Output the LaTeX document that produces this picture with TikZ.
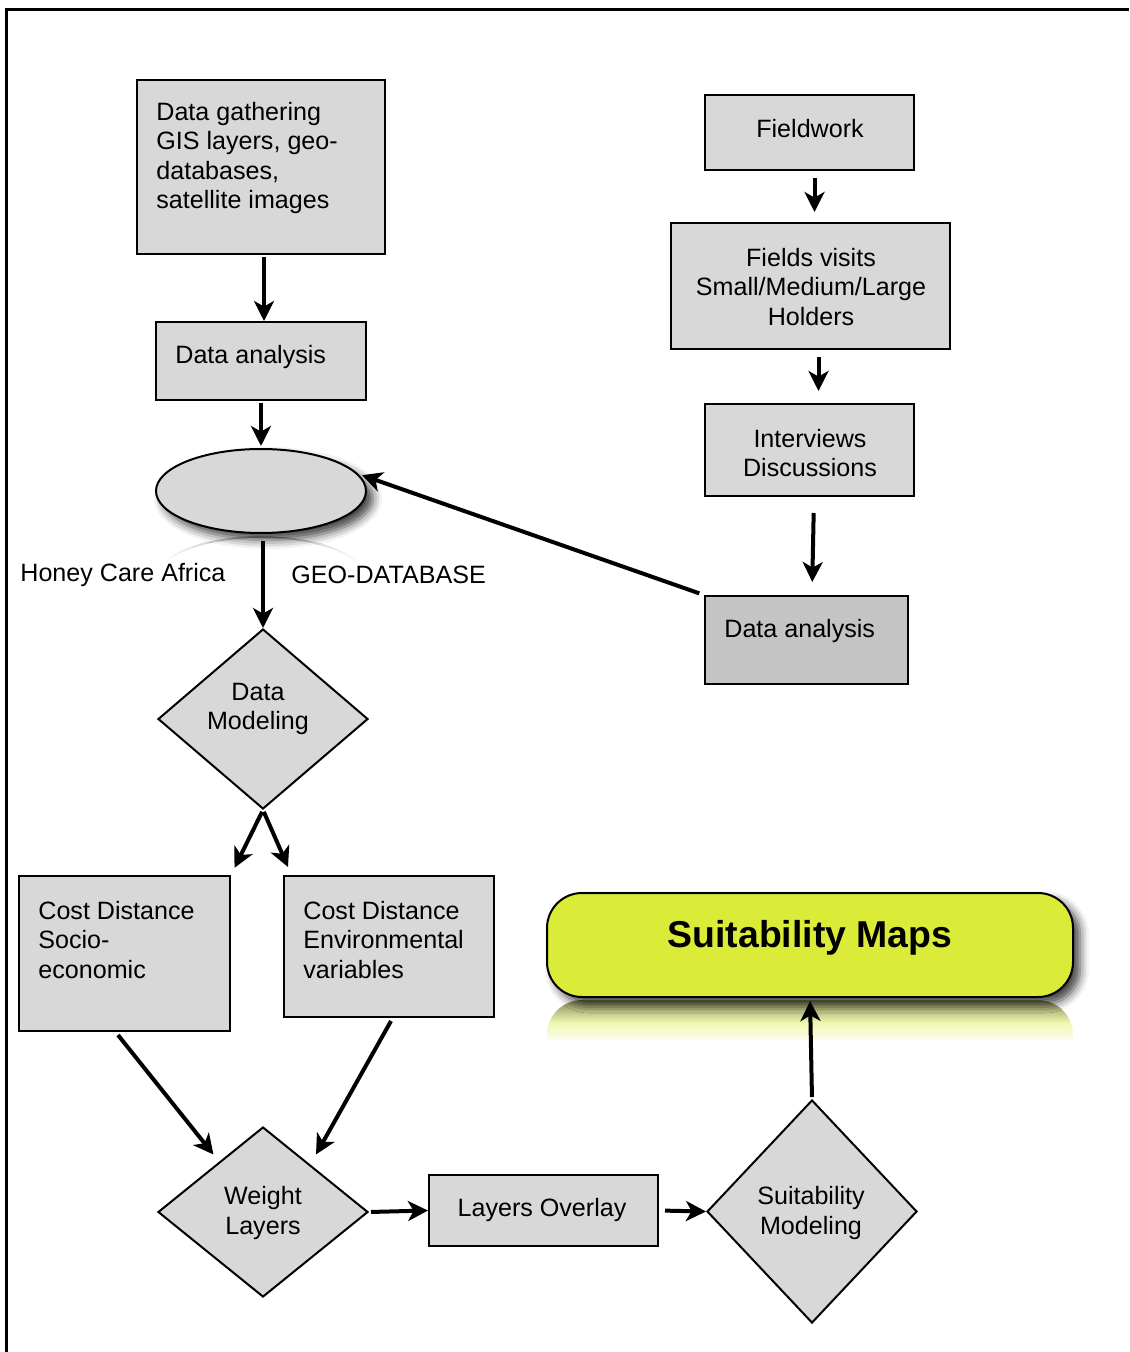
\documentclass[tikz,border=0pt]{standalone}
\usepackage{fontspec}
\setmainfont{Liberation Sans}
\usetikzlibrary{arrows.meta,shapes.geometric,shadows.blur,fadings,calc}
\definecolor{boxgray}{RGB}{216,216,216}
\definecolor{darkgray2}{RGB}{196,196,196}
\definecolor{mapyellow}{RGB}{218,235,56}
\definecolor{reflect}{RGB}{135,138,90}
\tikzfading[name=fadesides, left color=transparent!100, right color=transparent!100, middle color=transparent!0]
\begin{document}
\begin{tikzpicture}[x=0.5pt,y=-0.5pt,
  boxnode/.style={draw, line width=1pt, fill=boxgray, rectangle, inner sep=0pt},
  dia/.style={draw, line width=1pt, fill=boxgray, diamond, inner sep=0pt},
  txt/.style={inner sep=0pt, font=\fontsize{12.55}{14.7}\selectfont},
  arr/.style={line width=2pt, -{Stealth[length=10pt, width=10pt, inset=2.8pt]}}
]
\useasboundingbox (0,0) rectangle (1129,1352);
% frame
\draw[line width=1.8pt] (6.5,1352) -- (6.5,9.5) -- (1129,9.5);

% left column boxes
\node[boxnode, minimum width=124pt, minimum height=87pt] (gather) at (261,167) {};
\node[txt, anchor=west, align=left] (gatherT) at (156,158) {Data gathering\\GIS layers, geo-\\databases,\\satellite images};
\node[boxnode, minimum width=105pt, minimum height=39pt] (da1) at (261,361) {};
\node[txt, anchor=west] (da1T) at (175,357) {Data analysis};

% ellipse with reflection
\draw[gray!70, line width=1pt, path fading=fadesides] (165.1,561.9) arc[start angle=156, end angle=24, x radius=52.5pt, y radius=21pt];
\node[draw, line width=1pt, fill=boxgray, ellipse, minimum width=105pt, minimum height=42pt, inner sep=0pt,
  blur shadow={shadow xshift=3.5pt, shadow yshift=-3.5pt, shadow blur radius=4.5pt, shadow opacity=75}] (ell) at (261,491) {};
\node[txt, anchor=west] (honey) at (20,575) {Honey Care Africa};
\node[txt, anchor=west] (geo) at (291,575) {GEO-DATABASE};

% data modeling
\node[dia, minimum width=105pt, minimum height=90pt] (dm) at (263,719) {};
\node[txt, align=center] (dmT) at (258,709) {Data\\Modeling};

% cost distance boxes
\node[boxnode, minimum width=105.5pt, minimum height=77.5pt] (socio) at (124.5,953.5) {};
\node[txt, anchor=west, align=left] (socioT) at (38,940) {Cost Distance\\Socio-\\economic};
\node[boxnode, minimum width=105pt, minimum height=70.5pt] (env) at (389,946.5) {};
\node[txt, anchor=west, align=left] (envT) at (303,940) {Cost Distance\\Environmental\\variables};

% bottom row
\node[dia, minimum width=105pt, minimum height=85pt] (wl) at (263,1212) {};
\node[txt, align=center] (wlT) at (263,1213) {Weight\\Layers};
\node[boxnode, minimum width=114.5pt, minimum height=35.5pt] (ov) at (543.5,1210.5) {};
\node[txt] (ovT) at (542,1210) {Layers Overlay};
\node[dia, minimum width=105pt, minimum height=111.5pt] (sdm) at (812,1211.5) {};
\node[txt, align=center] (sdmT) at (811,1213) {Suitability\\Modeling};

% suitability maps with reflection
\shade[top color=reflect, bottom color=white, middle color=mapyellow!40!white]
  (547,1045) -- (547,1035) arc[start angle=180, end angle=90, radius=17.5pt] -- (1038,1000) arc[start angle=90, end angle=0, radius=17.5pt] -- (1073,1045) -- cycle;
\fill[white] (540,1040) rectangle (1080,1050);
\node[draw, line width=1pt, fill=mapyellow, rounded corners=17.5pt, minimum width=263pt, minimum height=52pt, inner sep=0pt,
  blur shadow={shadow xshift=3.5pt, shadow yshift=-3.5pt, shadow blur radius=4.5pt, shadow opacity=75}] (maps) at (810,945) {};
\node[inner sep=0pt, font=\bfseries\fontsize{18.7}{22}\selectfont] (mapsT) at (810,938) {Suitability Maps};

% right column
\node[boxnode, minimum width=104.5pt, minimum height=37.5pt] (field) at (809.5,132.5) {};
\node[txt] (fieldT) at (810,129) {Fieldwork};
\node[boxnode, minimum width=139.5pt, minimum height=63pt] (visits) at (810.5,286) {};
\node[txt, align=center] (visitsT) at (811,287) {Fields visits\\Small/Medium/Large\\Holders};
\node[boxnode, minimum width=104.5pt, minimum height=46pt] (inter) at (809.5,450) {};
\node[txt, align=center] (interT) at (810,453) {Interviews\\Discussions};
\node[boxnode, fill=darkgray2, minimum width=101.5pt, minimum height=44pt] (da2) at (806.5,640) {};
\node[txt, anchor=west] (da2T) at (724,631) {Data analysis};

% connectors
\draw[arr, shorten <=1pt] ($(gather.south)+(3,0)$) -- ($(da1.north)+(3,0)$);
\draw[arr, shorten <=1pt, shorten >=1pt] (da1.south) -- (ell.north);
\draw[arr, shorten <=3.5pt] ($(ell.south)+(2,0)$) -- (dm.north);
\draw[arr, shorten <=1pt, shorten >=4pt] (dm.south) -- (socio.north east);
\draw[arr, shorten <=1pt] (dm.south) -- ($(env.north west)+(5,-8)$);
\draw[arr] ($(socio.south)+(-6.5,3)$) -- ($(wl.north west)+(3.5,-14.5)$);
\draw[arr] ($(env.south)+(2,3)$) -- ($(wl.north east)+(0,-14.5)$);
\draw[arr, shorten <=1pt] (wl.east) -- (ov.west);
\draw[arr, shorten <=3pt] (ov.east) -- (sdm.west);
\draw[arr, shorten <=1pt, shorten >=1.5pt] (sdm.north) -- (maps.south);
\draw[arr, shorten <=3.5pt, shorten >=5pt] ($(field.south)+(5,0)$) -- ($(visits.north)+(4,0)$);
\draw[arr, shorten <=3.5pt, shorten >=6pt] ($(visits.south)+(8,0)$) -- ($(inter.north)+(9,0)$);
\draw[arr, shorten <=8pt, shorten >=6.5pt] ($(inter.south)+(4.5,0)$) -- ($(da2.north)+(5.5,0)$);
\draw[arr, shorten <=2.5pt, shorten >=2pt] (da2.north west) -- (ell.10);
\end{tikzpicture}
\end{document}
